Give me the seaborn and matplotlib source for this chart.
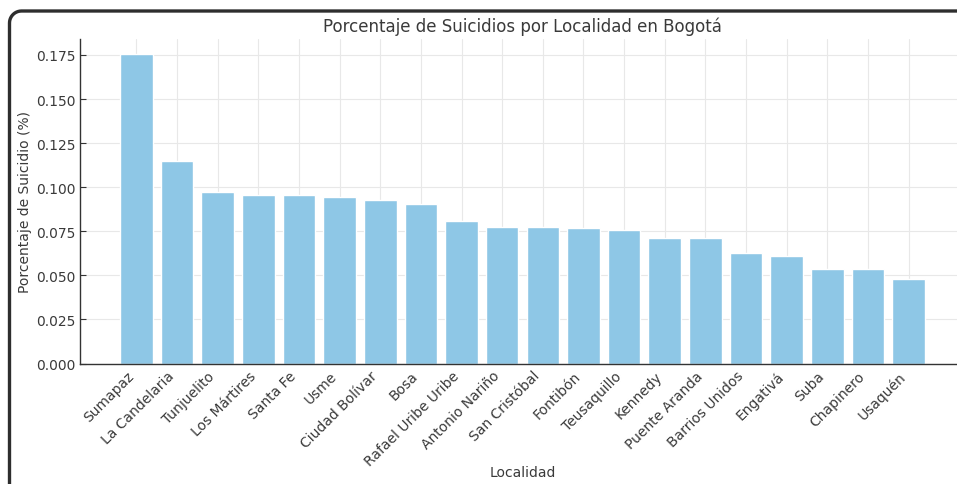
import matplotlib
matplotlib.use("Agg")
import matplotlib.pyplot as plt
from matplotlib.lines import Line2D
import seaborn as sns
import pandas as pd
import numpy as np

localidades = [
    "Sumapaz", "La Candelaria", "Tunjuelito", "Los Mártires", "Santa Fe",
    "Usme", "Ciudad Bolívar", "Bosa", "Rafael Uribe Uribe", "Antonio Nariño",
    "San Cristóbal", "Fontibón", "Teusaquillo", "Kennedy", "Puente Aranda",
    "Barrios Unidos", "Engativá", "Suba", "Chapinero", "Usaquén",
]
porcentajes = [
    0.1753, 0.1146, 0.0972, 0.0956, 0.0953,
    0.0947, 0.0926, 0.0903, 0.0809, 0.0772,
    0.0772, 0.0768, 0.0757, 0.0713, 0.0711,
    0.0628, 0.0609, 0.0535, 0.0535, 0.0482,
]

df = pd.DataFrame({"Localidad": localidades, "Porcentaje": porcentajes})

sns.set_style("white")
plt.rcParams["font.family"] = ["DejaVu Sans"]
text_color = "#3a3a3a"

fig = plt.figure(figsize=(9.57, 4.85), dpi=100)
W, H = 957, 485
ax = fig.add_axes([80 / W, 1 - 364.5 / H, (965 - 80) / W, (364.5 - 40) / H])

sns.barplot(data=df, x="Localidad", y="Porcentaje", color="#8ec7e6",
            saturation=1, width=0.8, ax=ax, zorder=2)

n = len(localidades)
ax.set_xlim(-0.4 - 0.05 * (n - 0.2), n - 0.6 + 0.05 * (n - 0.2))
ax.set_ylim(0, max(porcentajes) * 1.05)

ax.grid(True, axis="both", color="#e8e8e8", linewidth=0.8, zorder=0)
ax.set_axisbelow(True)
for s in ["top", "right"]:
    ax.spines[s].set_visible(False)
for s in ["left", "bottom"]:
    ax.spines[s].set_color("#333333")
    ax.spines[s].set_linewidth(1.0)

ax.tick_params(axis="both", direction="in", length=4, width=0.8,
               colors="#333333", labelcolor=text_color, labelsize=10)
ax.tick_params(axis="x", bottom=True)
ax.tick_params(axis="y", left=True)
plt.setp(ax.get_xticklabels(), rotation=45, ha="right")

ax.set_title("Porcentaje de Suicidios por Localidad en Bogotá",
             fontsize=12, color=text_color)
ax.set_xlabel("Localidad", fontsize=10, color=text_color)
ax.set_ylabel("Porcentaje de Suicidio (%)", fontsize=10, color=text_color)
ax.xaxis.set_label_coords(0.5, (364.5 - 466) / 324.5)
ax.yaxis.set_label_coords((25 - 80 + 7) / 885, 0.5)

# dark screenshot frame: top and left edges joined by a rounded corner
r = 12.0
x0, yt = 9.5, 12.0  # pixels from the top-left corner
theta = np.linspace(np.pi, np.pi / 2, 12)
cx, cy = x0 + r, yt + r
arc_x = cx + r * np.cos(theta)
arc_y = cy - r * np.sin(theta)
px = np.concatenate([[x0], arc_x, [W]])
py = np.concatenate([[H], arc_y, [yt]])
frame = Line2D(px / W, 1 - py / H, transform=fig.transFigure,
               color="#2e2e2e", linewidth=2.4, solid_capstyle="butt",
               zorder=10)
fig.add_artist(frame)

fig.savefig("out.png", dpi=100)
